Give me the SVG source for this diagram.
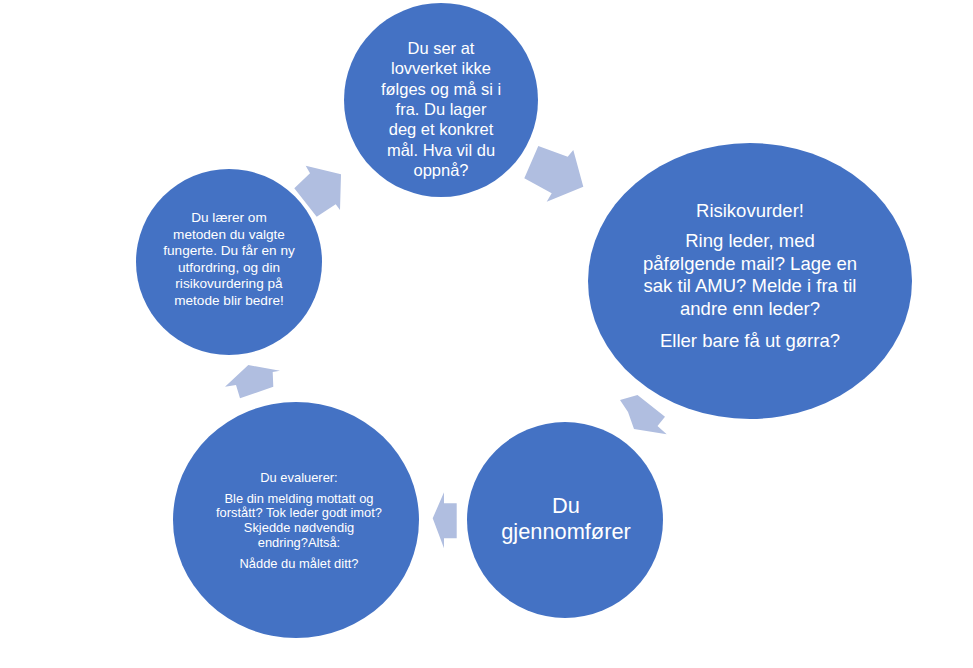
<svg xmlns="http://www.w3.org/2000/svg" width="973" height="668" viewBox="0 0 973 668">
<style>
.node{fill:#4472C4;}
.arr{fill:#B0BEE0;}
text{font-family:"Liberation Sans",Arial,sans-serif;fill:#FFFFFF;text-anchor:middle;}
.t1{font-size:16.5px;}
.t2{font-size:18.5px;}
.t3{font-size:13.6px;}
.t4{font-size:12.9px;}
.t5{font-size:21.8px;}
</style>
<rect width="973" height="668" fill="#FFFFFF"/>
<g id="connectors">
<polygon class="arr" points="305.7,165.7 341,174.3 340,210 335.7,204.3 316.7,216.7 294.3,188.3 310,173.3"/>
<polygon class="arr" points="538.3,146 567.7,156.7 573.3,150 583.3,186.7 546.7,201.7 551.7,193.3 524.3,178.3"/>
<polygon class="arr" points="620,400 637.5,395 665,416.7 657.5,426 666.7,434.3 634,429 628,412"/>
<polygon class="arr" points="432.7,518.3 444,492.3 444,503.3 456.7,503.3 456.7,538.3 444,538.3 444,548.3"/>
<polygon class="arr" points="225,386.7 248.3,365 280,370.7 272.7,372 273.3,386.7 240,398.3 236,385"/>
</g>
<g id="node-top">
<circle class="node" cx="441" cy="100" r="97"/>
<text class="t1" x="441" y="54">Du ser at</text>
<text class="t1" x="441" y="74.3">lovverket ikke</text>
<text class="t1" x="441" y="94.6">følges og må si i</text>
<text class="t1" x="441" y="114.9">fra. Du lager</text>
<text class="t1" x="441" y="135.2">deg et konkret</text>
<text class="t1" x="441" y="155.5">mål. Hva vil du</text>
<text class="t1" x="441" y="175.8">oppnå?</text>
</g>
<g id="node-right">
<ellipse class="node" cx="750" cy="281" rx="162" ry="138"/>
<text class="t2" x="750" y="217">Risikovurder!</text>
<text class="t2" x="750" y="247">Ring leder, med</text>
<text class="t2" x="750" y="269.5">påfølgende mail? Lage en</text>
<text class="t2" x="750" y="292">sak til AMU? Melde i fra til</text>
<text class="t2" x="750" y="314.5">andre enn leder?</text>
<text class="t2" x="750" y="346.5">Eller bare få ut gørra?</text>
</g>
<g id="node-bottom-right">
<circle class="node" cx="565" cy="520" r="98"/>
<text class="t5" x="566" y="513">Du</text>
<text class="t5" x="566" y="539">gjennomfører</text>
</g>
<g id="node-bottom-left">
<ellipse class="node" cx="296" cy="520" rx="123" ry="118"/>
<text class="t4" x="299" y="481.5">Du evaluerer:</text>
<text class="t4" x="299" y="502.5">Ble din melding mottatt og</text>
<text class="t4" x="299" y="517">forstått? Tok leder godt imot?</text>
<text class="t4" x="299" y="532">Skjedde nødvendig</text>
<text class="t4" x="299" y="546.5">endring?Altså:</text>
<text class="t4" x="299" y="567.5">Nådde du målet ditt?</text>
</g>
<g id="node-left">
<circle class="node" cx="229" cy="262" r="93"/>
<text class="t3" x="229" y="222">Du lærer om</text>
<text class="t3" x="229" y="238.5">metoden du valgte</text>
<text class="t3" x="229" y="255">fungerte. Du får en ny</text>
<text class="t3" x="229" y="271.5">utfordring, og din</text>
<text class="t3" x="229" y="288">risikovurdering på</text>
<text class="t3" x="229" y="304.5">metode blir bedre!</text>
</g>
</svg>
